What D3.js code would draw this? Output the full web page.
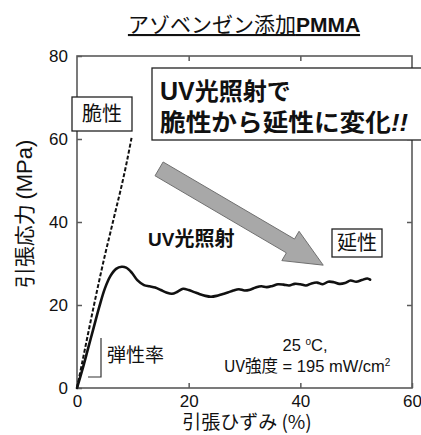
<!DOCTYPE html>
<html>
<head>
<meta charset="utf-8">
<script src="https://cdn.jsdelivr.net/npm/d3@7"></script>
<style>
  html, body { margin: 0; padding: 0; background: #fff; }
  svg { display: block; }
  text { font-family: "Liberation Sans", Arial, "Noto Sans CJK JP", sans-serif; }
  .jp { font-family: "Noto Sans CJK JP", "Liberation Sans", sans-serif; }
</style>
</head>
<body>
<svg id="chart" width="421" height="435"></svg>
<script>
// Stress–strain data for azobenzene-doped PMMA
const xTicks = [0, 20, 40, 60];
const yTicks = [0, 20, 40, 60, 80];

// Before UV: brittle, breaks near 60 MPa
const brittleStrain = [0, 1, 2, 3, 4, 5, 6, 7, 8, 9, 9.8];
const brittleStress = [0, 6.6, 13.2, 19.7, 26, 32, 37.6, 43.2, 48.8, 55, 60.5];

// Under UV: yields around 29 MPa then draws out past 50 %
const ductileStrain = [0, 1, 2, 3, 4, 5, 6, 7, 8, 8.8, 9.8, 10.8, 12, 13, 14, 15, 16, 17, 18, 19, 20, 21, 22, 23, 24, 25, 26, 27, 28, 29, 30, 31, 32, 33, 34, 35, 36, 37, 38, 39, 40, 41, 42, 43, 44, 45, 46, 47, 48, 49, 50, 51, 52, 52.5];
const ductileStress = [0, 4.6, 9.6, 14.6, 19.6, 24, 27, 28.7, 29.2, 29, 27.8, 26, 24.8, 24.5, 24.2, 23.6, 23, 22.7, 23.2, 23.9, 23.6, 23.1, 22.6, 22.2, 22.0, 22.2, 22.6, 23, 23.5, 23.8, 23.5, 23.7, 24.2, 24.5, 24.3, 24.6, 25, 24.9, 24.7, 25.1, 25.0, 24.7, 25.2, 25.4, 25.0, 25.6, 25.5, 25.1, 25.3, 25.9, 25.6, 26.0, 26.4, 26.1];

// Arrow from brittle toward ductile regime (strain %, stress MPa)
const arrowFrom = [14.7, 52.8];
const arrowTo = [44.1, 29.6];

const svg = d3.select("#chart");
const m = { left: 77, right: 412, top: 56, bottom: 388 };
const x = d3.scaleLinear().domain([0, 60]).range([m.left, m.right]);
const y = d3.scaleLinear().domain([0, 80]).range([m.bottom, m.top]);
const frameColor = "#5a5a5a";
const ink = "#111";
const latin = "Liberation Sans, Arial, sans-serif";

// Title
const title = svg.append("text").attr("class", "jp")
  .attr("x", 244).attr("y", 32).attr("text-anchor", "middle")
  .attr("font-size", 21).attr("fill", ink)
  .attr("text-decoration", "underline");
title.append("tspan").text("アゾベンゼン添加");
title.append("tspan").attr("font-weight", "bold").attr("font-family", latin).text("PMMA");

// Axes with inward ticks on all four sides
function styleAxis(g) {
  g.select(".domain").remove();
  g.selectAll(".tick line").attr("stroke", frameColor).attr("stroke-width", 1.5);
  g.selectAll(".tick text").attr("font-size", 17).attr("fill", ink).attr("font-family", latin);
}
svg.append("g").attr("transform", `translate(0,${m.bottom})`)
  .call(d3.axisBottom(x).tickValues(xTicks).tickSize(-5).tickPadding(7).tickFormat(d3.format("d")))
  .call(styleAxis);
svg.append("g").attr("transform", `translate(0,${m.top})`)
  .call(d3.axisTop(x).tickValues(xTicks.slice(1, -1)).tickSize(-5).tickFormat(""))
  .call(styleAxis);
svg.append("g").attr("transform", `translate(${m.left},0)`)
  .call(d3.axisLeft(y).tickValues(yTicks).tickSize(-5).tickPadding(9).tickFormat(d3.format("d")))
  .call(styleAxis);
svg.append("g").attr("transform", `translate(${m.right},0)`)
  .call(d3.axisRight(y).tickValues(yTicks.slice(1, -1)).tickSize(-5).tickFormat(""))
  .call(styleAxis);

svg.append("rect")
  .attr("x", m.left).attr("y", m.top)
  .attr("width", m.right - m.left).attr("height", m.bottom - m.top)
  .attr("fill", "none").attr("stroke", frameColor).attr("stroke-width", 1.6);

// Axis titles
svg.append("text").attr("class", "jp")
  .attr("x", 247).attr("y", 429).attr("text-anchor", "middle")
  .attr("font-size", 19).attr("fill", ink).text("引張ひずみ (%)");
const yl = svg.append("text").attr("class", "jp")
  .attr("transform", "translate(32,214) rotate(-90)").attr("text-anchor", "middle")
  .attr("font-size", 21).attr("fill", ink);
yl.append("tspan").text("引張応力 ");
yl.append("tspan").attr("font-family", latin).attr("font-size", 22).text("(MPa)");

// Curves
const line = d3.line().x(d => x(d[0])).y(d => y(d[1])).curve(d3.curveCatmullRom);
svg.append("path")
  .datum(brittleStrain.map((s, i) => [s, brittleStress[i]]))
  .attr("d", line).attr("fill", "none").attr("stroke", ink)
  .attr("stroke-width", 2).attr("stroke-dasharray", "4,2");
svg.append("path")
  .datum(ductileStrain.map((s, i) => [s, ductileStress[i]]))
  .attr("d", line).attr("fill", "none").attr("stroke", ink)
  .attr("stroke-width", 2.6).attr("stroke-linejoin", "round").attr("stroke-linecap", "round");

// Big gray arrow
(function () {
  const x0 = x(arrowFrom[0]), y0 = y(arrowFrom[1]);
  const x1 = x(arrowTo[0]), y1 = y(arrowTo[1]);
  const len = Math.hypot(x1 - x0, y1 - y0);
  const ux = (x1 - x0) / len, uy = (y1 - y0) / len;
  const px = -uy, py = ux;
  const sw = 8, hw = 17, hl = 38;
  const bx = x1 - ux * hl, by = y1 - uy * hl;
  const pts = [
    [x0 + px * sw, y0 + py * sw],
    [bx + px * sw, by + py * sw],
    [bx + px * hw, by + py * hw],
    [x1, y1],
    [bx - px * hw, by - py * hw],
    [bx - px * sw, by - py * sw],
    [x0 - px * sw, y0 - py * sw]
  ];
  svg.append("polygon").attr("points", pts.map(p => p.join(",")).join(" "))
    .attr("fill", "#a8a8a8").attr("stroke", "#707070").attr("stroke-width", 1);
})();

// Callout boxes
function boxLabel(bx, by, bw, bh, txt, size) {
  svg.append("rect").attr("x", bx).attr("y", by).attr("width", bw).attr("height", bh)
    .attr("fill", "#fff").attr("stroke", "#222").attr("stroke-width", 1.3);
  svg.append("text").attr("class", "jp")
    .attr("x", bx + bw / 2).attr("y", by + bh / 2).attr("dy", "0.36em")
    .attr("text-anchor", "middle").attr("font-size", size).attr("fill", ink).text(txt);
}
boxLabel(72, 97, 60, 34, "脆性", 20);
boxLabel(332, 229, 50, 28, "延性", 20);

svg.append("rect").attr("x", 152).attr("y", 68).attr("width", 280).attr("height", 72)
  .attr("fill", "#fff").attr("stroke", "#222").attr("stroke-width", 1.3);
const l1 = svg.append("text").attr("class", "jp")
  .attr("x", 160).attr("y", 100).attr("font-size", 24).attr("font-weight", "bold").attr("fill", ink);
l1.append("tspan").attr("font-family", latin).attr("font-size", 25).text("UV");
l1.append("tspan").text("光照射で");
const l2 = svg.append("text").attr("class", "jp")
  .attr("x", 160).attr("y", 131).attr("font-size", 24).attr("font-weight", "bold").attr("fill", ink)
  .attr("textLength", 248).attr("lengthAdjust", "spacingAndGlyphs");
l2.append("tspan").text("脆性から延性に変化");
l2.append("tspan").attr("font-style", "italic").attr("font-family", latin).text("!!");

const uv = svg.append("text").attr("class", "jp")
  .attr("x", 148).attr("y", 246).attr("font-size", 20).attr("font-weight", "bold").attr("fill", ink);
uv.append("tspan").attr("font-family", latin).attr("font-size", 19).text("UV");
uv.append("tspan").text("光照射");

// Modulus bracket
svg.append("path").attr("d", "M101,338 V377 H88")
  .attr("fill", "none").attr("stroke", "#333").attr("stroke-width", 1.2);
svg.append("text").attr("class", "jp")
  .attr("x", 107).attr("y", 362).attr("font-size", 19).attr("fill", ink).text("弾性率");

// Test conditions
const c1 = svg.append("text").attr("x", 305).attr("y", 351).attr("text-anchor", "middle")
  .attr("font-size", 16.5).attr("fill", ink);
c1.append("tspan").text("25 ");
c1.append("tspan").attr("font-size", 10).attr("dy", -6).text("o");
c1.append("tspan").attr("dy", 6).text("C,");
const c2 = svg.append("text").attr("x", 307).attr("y", 372).attr("text-anchor", "middle")
  .attr("font-size", 16.5).attr("fill", ink);
c2.append("tspan").attr("class", "jp").text("UV強度");
c2.append("tspan").text(" = 195 mW/cm");
c2.append("tspan").attr("font-size", 10).attr("dy", -6).text("2");
</script>
</body>
</html>
